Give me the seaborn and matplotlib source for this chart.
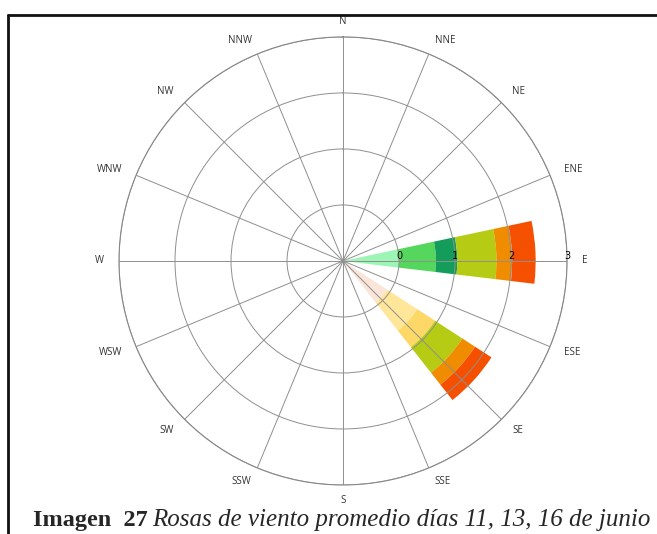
import numpy as np
import matplotlib
matplotlib.use("Agg")
import matplotlib.pyplot as plt
import seaborn as sns
from matplotlib.lines import Line2D

# ---- data -------------------------------------------------------------
directions = ["N", "NNE", "NE", "ENE", "E", "ESE", "SE", "SSE",
              "S", "SSW", "SW", "WSW", "W", "WNW", "NW", "NNW"]
radial_ticks = [0, 1, 2, 3]

# cumulative upper edge of each stacked speed segment (radial units)
east_dir = "E"
east_tops = [0.0, 0.66, 1.04, 1.74, 2.02, 2.44]
southeast_dir = "SE"
southeast_tops = [-0.06, 0.58, 0.96, 1.54, 1.81, 2.16]

# ---- style ------------------------------------------------------------
east_colors = ["#9cf5b4", "#55d65c", "#139c5a", "#b6cb13", "#f08c00", "#f55000"]
southeast_colors = ["#fbe4d8", "#ffe699", "#fdd866", "#b6cb13", "#f08c00", "#f55000"]
sector_width_deg = 18.8
sector_offset_deg = -2.6
r_min = -1
label_radius = 3.27

sns.set_theme(style="white")
plt.rcParams["font.family"] = ["Open Sans", "DejaVu Sans"]

fig = plt.figure(figsize=(6.57, 5.34), dpi=100)
ax = fig.add_axes([0.1811, 0.0918, 0.682, 0.839], projection="polar")
ax.set_theta_zero_location("N")
ax.set_theta_direction(-1)
ax.set_ylim(r_min, radial_ticks[-1])
ax.set_yticks(radial_ticks)
ax.set_yticklabels([])

dir_deg = np.arange(len(directions)) * 360 / len(directions)
dir_angles = np.deg2rad(dir_deg)
ax.set_xticks(dir_angles)
ax.set_xticklabels([])
ax.grid(True, color="#8f8f8f", linewidth=0.7)
ax.spines["polar"].set_color("#808080")
ax.spines["polar"].set_linewidth(0.8)
ax.set_axisbelow(False)

# direction labels outside the circle
for name, ang in zip(directions, dir_angles):
    s = np.sin(ang)
    ha = "left" if s > 0.1 else ("right" if s < -0.1 else "center")
    ax.text(ang, label_radius, name, ha=ha, va="center", fontsize=7,
            color="#333333", clip_on=False)


def draw_stack(direction, tops, colors):
    idx = directions.index(direction)
    theta = np.deg2rad(dir_deg[idx] + sector_offset_deg)
    bottoms = [r_min] + tops[:-1]
    heights = [t - b for t, b in zip(tops, bottoms)]
    ax.bar([theta] * len(tops), heights, width=np.deg2rad(sector_width_deg),
           bottom=bottoms, color=colors, edgecolor="none", linewidth=0,
           align="center", zorder=1)


draw_stack(east_dir, east_tops, east_colors)
draw_stack(southeast_dir, southeast_tops, southeast_colors)

# radial labels along the East spoke
label_theta = dir_angles[directions.index("E")]
for r in radial_ticks:
    ax.text(label_theta, r, str(r), ha="center", va="bottom", fontsize=7,
            color="black", family="DejaVu Sans", zorder=5)

# frame lines (top and left)
fig.add_artist(Line2D([8 / 657, 1.0], [1 - 15 / 534, 1 - 15 / 534],
                      transform=fig.transFigure, color="#111111", linewidth=2))
fig.add_artist(Line2D([8 / 657, 8 / 657], [0.0, 1 - 15 / 534],
                      transform=fig.transFigure, color="#111111", linewidth=2))

# caption
cap_y = 1 - 526 / 534
t1 = fig.text(33 / 657, cap_y, "Imagen  27", fontsize=17.5, fontweight="bold",
              family="Liberation Serif", va="baseline", ha="left")
fig.canvas.draw()
bb = t1.get_window_extent()
fig.text((bb.x1 + 4) / fig.bbox.width, cap_y,
         "Rosas de viento promedio días 11, 13, 16 de junio",
         fontsize=18, style="italic", family="Liberation Serif",
         va="baseline", ha="left")

fig.savefig("out.png", dpi=100)
